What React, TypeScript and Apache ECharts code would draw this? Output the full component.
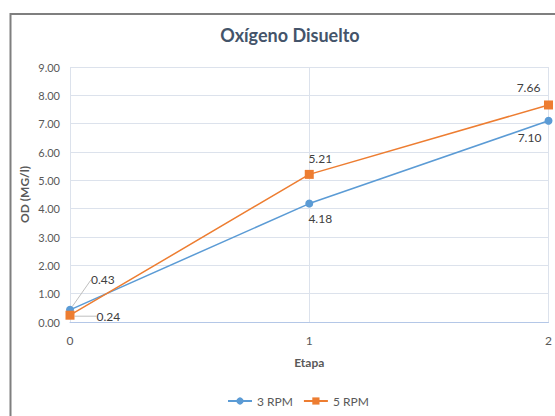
import React, { useEffect, useRef } from "react";
import * as echarts from "echarts";

const etapas = [0, 1, 2];
const rpm3 = [0.43, 4.18, 7.1];
const rpm5 = [0.24, 5.21, 7.66];
const yTicks = [0, 1, 2, 3, 4, 5, 6, 7, 8, 9];

const FONT = "Lato, 'Open Sans', sans-serif";
const TXT = "#595959";

export default function App() {
  const ref = useRef<HTMLDivElement>(null);
  useEffect(() => {
    if (!ref.current) return;
    const chart = echarts.init(ref.current, null, { renderer: "svg" });
    const lbl = (pos: string) => ({
      show: true,
      position: pos,
      color: "#404040",
      fontSize: 12,
      fontFamily: FONT,
      formatter: (p: any) => Number(p.value[1]).toFixed(2),
    });
    const pos3 = ["right", "bottom", "bottom"];
    const pos5 = ["right", "top", "top"];
    const shift3 = [
      { dx: 12, dy: -30 },
      { dx: 11, dy: 0 },
      { dx: -19, dy: 2 },
    ];
    const shift5 = [
      { dx: 17, dy: 1 },
      { dx: 11, dy: 0 },
      { dx: -20, dy: -2 },
    ];
    const leader = (i: number) => ({
      show: i === 0,
      lineStyle: { color: "#BFBFBF", width: 1 },
    });
    chart.setOption({
      animation: false,
      title: {
        text: "Oxígeno Disuelto",
        left: 285,
        textAlign: "center",
        top: 21,
        textStyle: { fontFamily: FONT, fontSize: 18, fontWeight: "bold", color: "#44546A" },
      },
      graphic: [
        {
          type: "rect",
          shape: { x: 10.5, y: 14, width: 700, height: 600 },
          style: { fill: "none", stroke: "#7F7F7F", lineWidth: 2 },
          silent: true,
        },
      ],
      grid: { left: 70, right: 2, top: 67, bottom: 94 },
      legend: {
        bottom: 4,
        left: 222,
        itemWidth: 24,
        itemHeight: 9,
        itemGap: 10,
        textStyle: { fontFamily: FONT, fontSize: 12, color: TXT },
        data: ["3 RPM", "5 RPM"],
      },
      xAxis: {
        type: "value",
        min: 0,
        max: 2,
        interval: 1,
        name: "Etapa",
        nameLocation: "middle",
        nameGap: 34,
        nameMoveOverlap: false,
        nameTextStyle: { fontFamily: FONT, fontSize: 12, fontWeight: "bold", color: TXT },
        axisLine: { show: true, lineStyle: { color: "#B4C7E7", width: 1 } },
        axisTick: { show: false },
        axisLabel: { fontFamily: FONT, fontSize: 12, color: TXT, margin: 12 },
        splitLine: { show: true, lineStyle: { color: "#DCE2EC" } },
      },
      yAxis: {
        type: "value",
        min: yTicks[0],
        max: yTicks[yTicks.length - 1],
        interval: 1,
        name: "OD (MG/l)",
        nameLocation: "middle",
        nameGap: 40,
        nameMoveOverlap: false,
        nameTextStyle: { fontFamily: FONT, fontSize: 12, fontWeight: "bold", color: TXT },
        axisLine: { show: false },
        axisTick: { show: false },
        axisLabel: {
          fontFamily: FONT,
          fontSize: 11,
          color: TXT,
          margin: 10,
          formatter: (v: number) => v.toFixed(2),
        },
        splitLine: { show: true, lineStyle: { color: "#DCE2EC" } },
      },
      series: [
        {
          name: "3 RPM",
          type: "line",
          symbol: "circle",
          symbolSize: 8,
          clip: false,
          color: "#5B9BD5",
          lineStyle: { width: 1.5, color: "#5B9BD5" },
          itemStyle: { color: "#5B9BD5" },
          labelLine: { show: true, lineStyle: { color: "#BFBFBF", width: 1 } },
          labelLayout: (p: any) => shift3[p.dataIndex],
          data: etapas.map((e, i) => ({
            value: [e, rpm3[i]],
            label: lbl(pos3[i]),
            labelLine: leader(i),
          })),
        },
        {
          name: "5 RPM",
          type: "line",
          symbol: "rect",
          symbolSize: 9,
          clip: false,
          color: "#ED7D31",
          lineStyle: { width: 1.5, color: "#ED7D31" },
          itemStyle: { color: "#ED7D31" },
          labelLine: { show: true, lineStyle: { color: "#BFBFBF", width: 1 } },
          labelLayout: (p: any) => shift5[p.dataIndex],
          data: etapas.map((e, i) => ({
            value: [e, rpm5[i]],
            label: lbl(pos5[i]),
            labelLine: leader(i),
          })),
        },
      ],
    });
    return () => chart.dispose();
  }, []);
  return (
    <div
      ref={ref}
      style={{ position: "fixed", left: 0, top: 0, width: 555, height: 416, background: "#fff" }}
    />
  );
}
